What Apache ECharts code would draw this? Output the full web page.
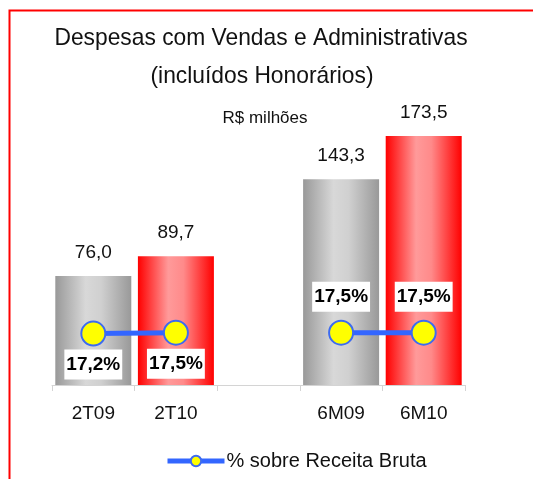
<!DOCTYPE html>
<html lang="pt">
<head>
  <meta charset="UTF-8">
  <title>Despesas com Vendas e Administrativas</title>
  <style>
    html, body { margin: 0; padding: 0; background: #fff; }
  </style>
</head>
<body>
  <div id="main" style="width: 533px;height:479px;"></div>

  <script src="https://cdn.jsdelivr.net/npm/echarts@6.0.0/dist/echarts.min.js"></script>
  <script type="text/javascript">
    // dados
    var categorias = ['2T09', '2T10', '', '6M09', '6M10'];
    var despesas = [76.0, 89.7, '-', 143.3, 173.5];
    var percentual = [17.2, 17.5, '-', 17.5, 17.5];
    var posRotulo = ['bottom', 'bottom', '', 'top', 'top'];

    var myChart = echarts.init(document.getElementById('main'));

    function fmt(v, casas) {
      return Number(v).toFixed(casas).replace('.', ',');
    }

    var gradCinza = new echarts.graphic.LinearGradient(0, 0, 1, 0, [
      { offset: 0, color: '#999999' },
      { offset: 0.4, color: '#d8d8d8' },
      { offset: 0.6, color: '#d0d0d0' },
      { offset: 1, color: '#999999' }
    ]);
    var gradVermelho = new echarts.graphic.LinearGradient(0, 0, 1, 0, [
      { offset: 0, color: '#ff0000' },
      { offset: 0.4, color: '#ff9a9a' },
      { offset: 0.6, color: '#ff8a8a' },
      { offset: 1, color: '#ff0000' }
    ]);

    var barras = despesas.map(function (v, i) {
      return {
        value: v,
        itemStyle: { color: categorias[i].indexOf('09') >= 0 ? gradCinza : gradVermelho }
      };
    });

    var pontos = percentual.map(function (v, i) {
      if (v === '-') return '-';
      return {
        value: v,
        label: {
          position: posRotulo[i],
          distance: posRotulo[i] === 'top' ? 8 : 3
        }
      };
    });

    // titulo com fonte um pouco estreita
    var fonteTitulo = '24px "Liberation Sans", Arial, sans-serif';

    var option = {
      animation: false,
      textStyle: { fontFamily: 'Liberation Sans, Arial, sans-serif' },
      graphic: [{
        type: 'rect',
        shape: { x: 9.5, y: 10.5, width: 700, height: 700 },
        style: { fill: 'none', stroke: '#ff0000', lineWidth: 2 },
        silent: true
      }, {
        type: 'text',
        x: 261, y: 38,
        scaleX: 0.95,
        style: {
          text: 'Despesas com Vendas e Administrativas',
          font: fonteTitulo, fill: '#111',
          align: 'center', verticalAlign: 'middle'
        }
      }, {
        type: 'text',
        x: 262, y: 76,
        scaleX: 0.95,
        style: {
          text: '(incluídos Honorários)',
          font: fonteTitulo, fill: '#111',
          align: 'center', verticalAlign: 'middle'
        }
      }, {
        type: 'text',
        x: 265, y: 118,
        style: {
          text: 'R$ milhões',
          font: '17px "Liberation Sans", Arial, sans-serif', fill: '#111',
          align: 'center', verticalAlign: 'middle'
        }
      }],
      legend: {
        left: 160,
        top: 446,
        itemWidth: 57,
        itemHeight: 13,
        itemGap: 4,
        data: ['% sobre Receita Bruta'],
        lineStyle: { width: 5, color: '#3366ff' },
        textStyle: { fontSize: 20, color: '#111', padding: [0, 0, 0, -3] }
      },
      grid: { left: 52, right: 68, top: 98, bottom: 94 },
      xAxis: {
        type: 'category',
        data: categorias,
        axisLine: { lineStyle: { color: '#d4d4d4', width: 1 } },
        axisTick: { show: true, length: 6, lineStyle: { color: '#d4d4d4' } },
        axisLabel: { fontSize: 19, color: '#111', margin: 19 }
      },
      yAxis: [{
        type: 'value', min: 0, max: 200, show: false
      }, {
        type: 'value', min: 0, max: 96, show: false
      }],
      series: [{
        name: 'Despesas',
        type: 'bar',
        barCategoryGap: '8%',
        data: barras,
        label: {
          show: true,
          position: 'top',
          distance: 14,
          fontSize: 19,
          color: '#111',
          formatter: function (p) { return fmt(p.value, 1); }
        }
      }, {
        name: '% sobre Receita Bruta',
        type: 'line',
        yAxisIndex: 1,
        data: pontos,
        connectNulls: false,
        symbol: 'circle',
        symbolSize: 24,
        lineStyle: { color: '#3366ff', width: 5 },
        itemStyle: { color: '#ffff00', borderColor: '#3d6bf0', borderWidth: 2 },
        label: {
          show: true,
          fontSize: 19,
          fontWeight: 'bold',
          color: '#000',
          backgroundColor: '#fff',
          padding: [6, 2, 5, 2],
          formatter: function (p) { return fmt(p.value, 1) + '%'; }
        },
        z: 5
      }]
    };

    myChart.setOption(option);
  </script>
</body>
</html>
